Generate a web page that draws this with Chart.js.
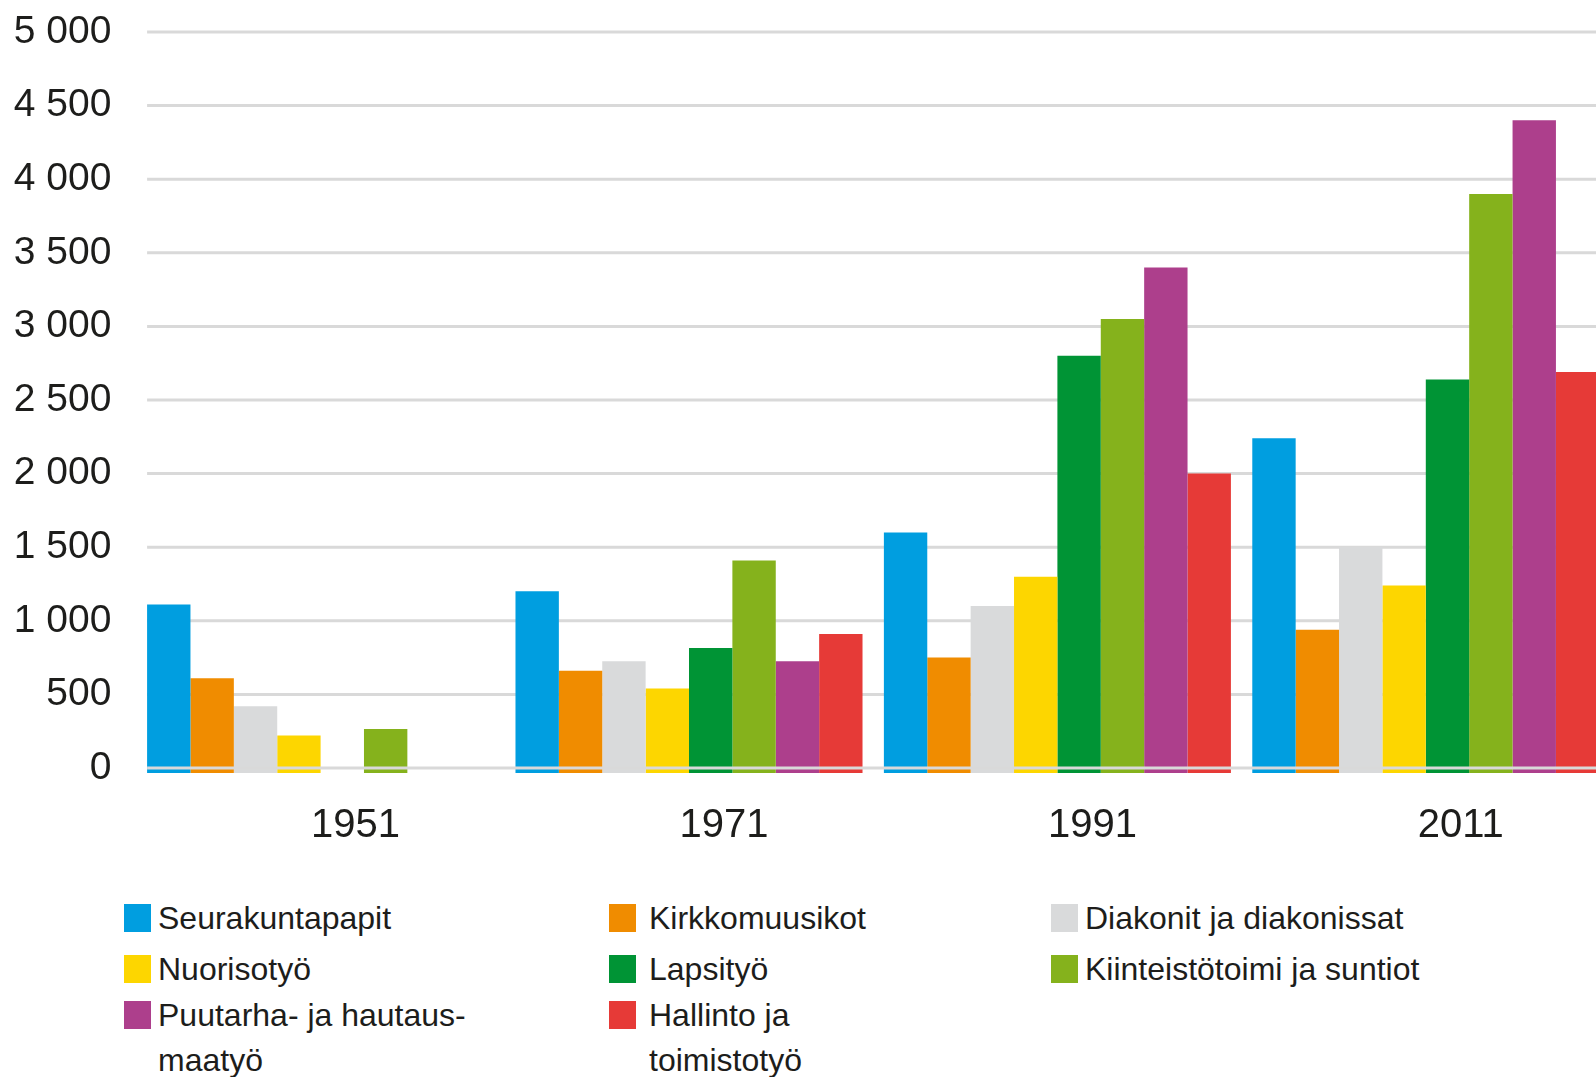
<!DOCTYPE html>
<html>
<head>
<meta charset="utf-8">
<script src="https://cdn.jsdelivr.net/npm/chart.js@4.4.1/dist/chart.umd.min.js"></script>
<style>
  body { margin: 0; background: #fff; overflow: hidden; width: 1596px; height: 1077px; position: relative; }
  #wrap { position: absolute; left: 0; top: 0; width: 1620px; height: 870px; }
  .item { position: absolute; display: flex; font-family: "Liberation Sans", Arial, sans-serif; font-size: 32px; line-height: 45px; color: #1d1d1b; }
  .box { width: 27px; height: 28px; margin-top: 8px; margin-right: 7px; flex: none; }
</style>
</head>
<body>
<div id="wrap"><canvas id="myChart"></canvas></div>
<div id="legend"></div>
<script>
years = ["1951", "1971", "1991", "2011"];
yTicks = [0, 500, 1000, 1500, 2000, 2500, 3000, 3500, 4000, 4500, 5000];

seriesNames = [
    "Seurakuntapapit",
    "Kirkkomuusikot",
    "Diakonit ja diakonissat",
    "Nuorisotyö",
    "Lapsityö",
    "Kiinteistötoimi ja suntiot",
    ["Puutarha- ja hautaus-", "maatyö"],
    ["Hallinto ja", "toimistotyö"]
];
seriesColors = ["#009ee0", "#f08c00", "#d9dadb", "#fdd600", "#009435", "#85b21c", "#ad3f8c", "#e63a37"];

pappi = [1110, 1200, 1600, 2240];
musiikki = [610, 660, 750, 940];
diakonia = [420, 725, 1100, 1500];
nuoriso = [220, 540, 1300, 1240];
lapsi = [null, 815, 2800, 2640];
kiinteisto = [265, 1410, 3050, 3900];
puutarha = [null, 725, 3400, 4400];
hallinto = [null, 910, 2000, 2690];

seriesValues = [pappi, musiikki, diakonia, nuoriso, lapsi, kiinteisto, puutarha, hallinto];

var BASE = -34;   // bars run a few px under the zero line

function fmt(v) {
    return String(v).replace(/\B(?=(\d{3})+(?!\d))/g, " ");
}

// grid lines start at the first bar, zero line goes over the bars
function drawLines(chart, values) {
    var ctx = chart.ctx, y = chart.scales.y;
    var first = chart.getDatasetMeta(0).data[0];
    var x0 = first.x - first.width / 2;
    ctx.save();
    ctx.strokeStyle = "#d9d9d9";
    ctx.lineWidth = 3;
    values.forEach(function (v) {
        var py = y.getPixelForValue(v);
        ctx.beginPath();
        ctx.moveTo(x0, py);
        ctx.lineTo(chart.width, py);
        ctx.stroke();
    });
    ctx.restore();
}

var gridPlugin = {
    id: "gridLines",
    beforeDatasetsDraw: function (chart) { drawLines(chart, yTicks.filter(function (v) { return v !== 0; })); },
    afterDatasetsDraw: function (chart) { drawLines(chart, [0]); }
};

var ctx = document.getElementById("myChart").getContext("2d");
var myChart = new Chart(ctx, {
    type: "bar",
    data: {
        labels: years,
        datasets: seriesValues.map(function (vals, i) {
            return {
                label: seriesNames[i],
                data: vals,
                backgroundColor: seriesColors[i],
                base: BASE,
                categoryPercentage: 0.942,
                barPercentage: 1
            };
        })
    },
    options: {
        responsive: true,
        maintainAspectRatio: false,
        animation: false,
        layout: { padding: { top: 32, right: 10, left: 0, bottom: 0 } },
        plugins: { legend: { display: false }, tooltip: { enabled: false } },
        scales: {
            x: {
                grid: { display: false, drawTicks: false },
                border: { display: false },
                ticks: {
                    color: "#1d1d1b",
                    font: { family: "Liberation Sans", size: 40 },
                    padding: 29,
                    labelOffset: 35,
                    maxRotation: 0
                },
                afterFit: function (s) { s.height = 97; s.paddingLeft = 0; s.paddingRight = 0; }
            },
            y: {
                min: BASE,
                max: 5000,
                grid: { display: false, drawTicks: false },
                border: { display: false },
                afterBuildTicks: function (s) { s.ticks = yTicks.map(function (v) { return { value: v }; }); },
                ticks: {
                    color: "#1d1d1b",
                    font: { family: "Liberation Sans", size: 39 },
                    padding: 25,
                    callback: function (v) { return fmt(v); }
                },
                afterFit: function (s) { s.width = 136.4; s.paddingTop = 0; s.paddingBottom = 0; }
            }
        }
    },
    plugins: [gridPlugin]
});

// legend, three columns
var colLeft = [124, 609, 1051];
var colGap = [7, 13, 7];
var rowTop = [896, 947, 993];
var legend = document.getElementById("legend");
seriesNames.forEach(function (name, i) {
    var item = document.createElement("div");
    item.className = "item";
    item.style.left = colLeft[i % 3] + "px";
    item.style.top = rowTop[Math.floor(i / 3)] + "px";
    var box = document.createElement("div");
    box.className = "box";
    box.style.background = seriesColors[i];
    box.style.marginRight = colGap[i % 3] + "px";
    var txt = document.createElement("div");
    txt.innerHTML = [].concat(name).join("<br>");
    item.appendChild(box);
    item.appendChild(txt);
    legend.appendChild(item);
});
</script>
</body>
</html>
